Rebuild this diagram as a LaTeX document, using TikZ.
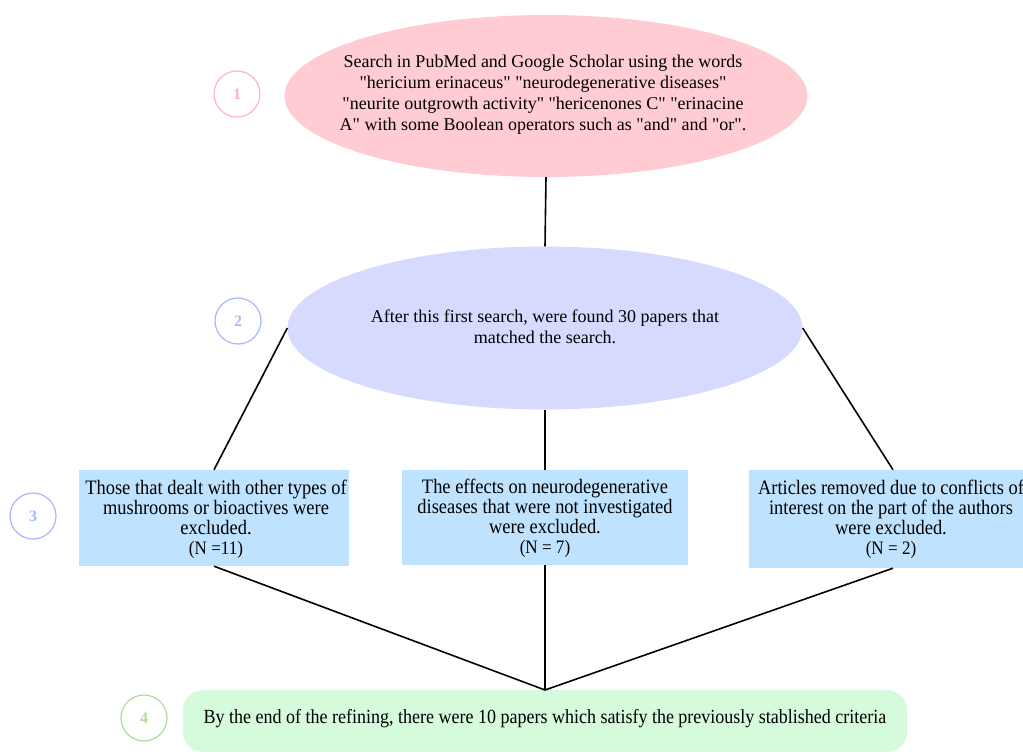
\documentclass[tikz,border=0pt]{standalone}
\usepackage{fontspec}
\setmainfont{Liberation Serif}
\newfontfamily\condfont{Liberation Serif}[FakeStretch=0.9]
\usetikzlibrary{shapes.geometric}
\newcommand{\qq}{\textquotedbl}
\definecolor{pinkfill}{HTML}{FFCCD3}
\definecolor{pinkline}{HTML}{FFB3BE}
\definecolor{bluefill}{HTML}{D6DAFF}
\definecolor{blueline}{HTML}{A9B5FF}
\definecolor{boxfill}{HTML}{BFE3FF}
\definecolor{greenfill}{HTML}{D6FADC}
\definecolor{greenline}{HTML}{AEDC96}
\tikzset{
  numcirc/.style={circle, draw=#1, line width=1.2pt, minimum size=46pt, inner sep=0pt, text=#1, font=\fontsize{16}{18}\selectfont\bfseries},
  bigell/.style={ellipse, fill=#1, draw=none, inner sep=0pt},
  elltext/.style={align=center, font=\fontsize{18}{21}\selectfont},
  exbox/.style={rectangle, fill=boxfill, draw=none, inner sep=0pt},
  boxtext/.style={align=center, inner sep=0pt, font=\condfont\fontsize{20.5}{20}\selectfont},
  conn/.style={draw=black, line width=1.6pt},
}
\newcommand{\nline}[1]{{\fontsize{19}{19}\selectfont #1}}
\begin{document}
\begin{tikzpicture}[x=1pt,y=-1pt]
\useasboundingbox (0,0) rectangle (1023,753);
% circles
\node[numcirc=pinkline] (c1) at (237,94) {1};
\node[numcirc=blueline] (c2) at (238,321) {2};
\node[numcirc=blueline] (c3) at (33,516) {3};
\node[numcirc=greenline] (c4) at (144,718) {4};
% ellipses
\node[bigell=pinkfill, minimum width=523pt, minimum height=162pt] (e1) at (546,96) {};
\node[elltext] (t1) at (543,95) {Search in PubMed and Google Scholar using the words\\ \qq hericium erinaceus\qq{} \qq neurodegenerative diseases\qq\\ \qq neurite outgrowth activity\qq{} \qq hericenones C\qq{} \qq erinacine\\ A\qq{} with some Boolean operators such as \qq and\qq{} and \qq or\qq.};
\node[bigell=bluefill, minimum width=515pt, minimum height=163pt] (e2) at (545,328) {};
\node[elltext] (t2) at (545,327) {After this first search, were found 30 papers that\\ matched the search.};
% boxes
\node[exbox, minimum width=270pt, minimum height=96pt] (b1) at (214,518) {};
\node[exbox, minimum width=286pt, minimum height=95pt] (b2) at (545,517.5) {};
\node[exbox, minimum width=288pt, minimum height=98pt] (b3) at (893,519) {};
\node[boxtext] (tb1) at (216,519) {Those that dealt with other types of\\ mushrooms or bioactives were\\ excluded.\\ \nline{(N =11)}};
\node[boxtext] (tb2) at (545,518) {The effects on neurodegenerative\\ diseases that were not investigated\\ were excluded.\\ \nline{(N = 7)}};
\node[boxtext] (tb3) at (891,519) {Articles removed due to conflicts of\\ interest on the part of the authors\\ were excluded.\\ \nline{(N = 2)}};
% final box
\node[rectangle, rounded corners=20pt, fill=greenfill, minimum width=724pt, minimum height=62pt, inner sep=0pt] (f) at (545,721) {};
\node[boxtext, font=\condfont\fontsize{20}{20}\selectfont] (tf) at (545,719) {By the end of the refining, there were 10 papers which satisfy the previously stablished criteria};
% connectors
\draw[conn] (e1.south) -- (e2.north);
\draw[conn] (e2.west) -- (b1.north);
\draw[conn] (e2.south) -- (b2.north);
\draw[conn] (e2.east) -- (b3.north);
\coordinate (m) at (545,690);
\draw[conn] (b1.south) -- (m);
\draw[conn] (b2.south) -- (m);
\draw[conn] (b3.south) -- (m);
\end{tikzpicture}
\end{document}
